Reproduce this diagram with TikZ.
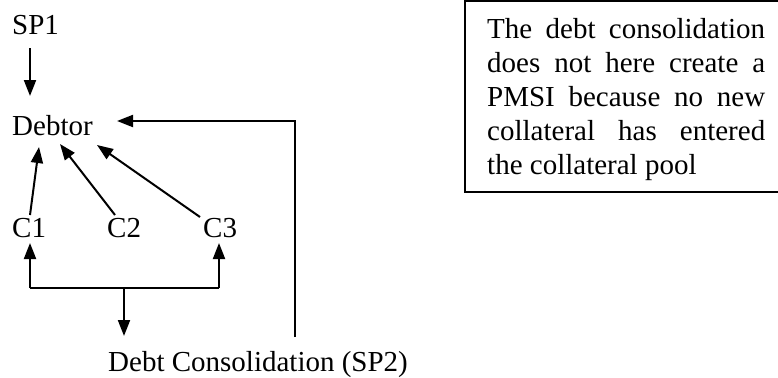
\documentclass[tikz,border=0pt]{standalone}
\usepackage{fontspec}
\setmainfont{Liberation Serif}
\usetikzlibrary{arrows.meta,calc}
\tikzset{
  lbl/.style={anchor=base west, inner sep=0pt, font=\fontsize{29bp}{34bp}\selectfont},
  line/.style={line width=2bp},
  arr/.style={line width=2bp, -{Triangle[width=12bp,length=16bp]}},
  frame/.style={line width=1.5bp}
}
\begin{document}
\begin{tikzpicture}[x=1bp,y=-1bp]
\useasboundingbox (0,0) rectangle (778,377);
\node[lbl] (sp1) at (12,34) {SP1};
\node[lbl] (debtor) at (12,135.5) {Debtor};
\node[lbl] (c1) at (12,237) {C1};
\node[lbl] (c2) at (107,237) {C2};
\node[lbl] (c3) at (203,237) {C3};
\node[lbl] (dc) at (108,371) {Debt Consolidation (SP2)};
\node[anchor=north west, inner sep=0pt, text width=278bp, align=justify,
      font=\fontsize{29bp}{34bp}\selectfont] (note) at (487,18)
  {The debt consolidation does not here create a PMSI because no new collateral has entered\linebreak the collateral pool};
\draw[frame] (465,1) rectangle (780,192);
% SP1 -> Debtor
\draw[arr] ($(sp1.base west)+(18,14)$) -- ($(debtor.base west)+(18,-39.5)$);
% C1, C2, C3 -> Debtor
\draw[arr] ($(c1.base west)+(18,-22)$) -- ($(debtor.base west)+(27,11.5)$);
\draw[arr] ($(c2.base west)+(8,-22)$) -- ($(debtor.base west)+(48,8.5)$);
\draw[arr] ($(c3.base west)+(-3,-20)$) -- ($(debtor.base west)+(85,9.5)$);
% Debt consolidation -> Debtor
\draw[arr] ($(dc.base west)+(187,-34)$) |- ($(debtor.base west)+(105,-14.5)$);
% bracket
\draw[line] ($(c1.base west)+(18,51)$) -- ($(c3.base west)+(16,51)$);
\draw[arr] ($(c1.base west)+(18,51)$) -- ($(c1.base west)+(18,6)$);
\draw[arr] ($(c3.base west)+(16,51)$) -- ($(c3.base west)+(16,6)$);
\draw[arr] ($(dc.base west)+(16,-83)$) -- ($(dc.base west)+(16,-35)$);
\end{tikzpicture}
\end{document}
